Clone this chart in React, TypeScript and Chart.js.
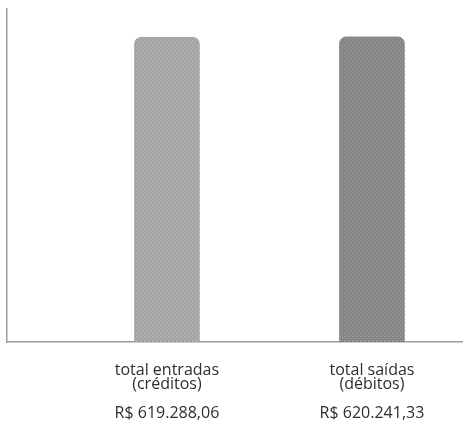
import React, { useEffect, useRef } from "react";
import { Chart, registerables } from "chart.js";

Chart.register(...registerables);

const categoryLines: string[][] = [
  ["total entradas", "(créditos)"],
  ["total saídas", "(débitos)"],
];
const amountLabels: string[] = ["R$ 619.288,06", "R$ 620.241,33"];
const values: number[] = [619288.06, 620241.33];
const positions: number[] = [0, 1];

function makePattern(base: string, dot: string): CanvasPattern | string {
  const c = document.createElement("canvas");
  c.width = 4;
  c.height = 4;
  const ctx = c.getContext("2d");
  if (!ctx) return base;
  ctx.fillStyle = base;
  ctx.fillRect(0, 0, 4, 4);
  ctx.fillStyle = dot;
  ctx.fillRect(0, 0, 1, 1);
  ctx.fillRect(2, 2, 1, 1);
  const p = ctx.createPattern(c, "repeat");
  return p || base;
}

export default function App() {
  const ref = useRef<HTMLCanvasElement | null>(null);
  useEffect(() => {
    if (!ref.current) return;
    const fills = [
      makePattern("#a3a3a3", "#c4c4c4"),
      makePattern("#868686", "#a6a6a6"),
    ];
    const chart = new Chart(ref.current, {
      type: "bar",
      data: {
        datasets: [
          {
            data: positions.map((x, i) => ({ x, y: values[i] })),
            backgroundColor: fills as any,
            borderWidth: 0,
            borderRadius: { topLeft: 7, topRight: 7, bottomLeft: 0, bottomRight: 0 },
            borderSkipped: false,
            barThickness: 65,
          },
        ],
      },
      options: {
        animation: false,
        responsive: false,
        maintainAspectRatio: false,
        layout: { padding: { left: 7, right: 0, top: 9, bottom: 0 } },
        plugins: { legend: { display: false }, tooltip: { enabled: false } },
        scales: {
          x: {
            type: "linear",
            offset: false,
            min: -0.78,
            max: 1.444,
            grid: { display: false, drawTicks: false },
            border: { display: true, color: "#9a9a9a", width: 1.5 },
            afterBuildTicks: (scale: any) => {
              scale.ticks = positions.map((v) => ({ value: v }));
            },
            afterFit: (scale: any) => {
              scale.height = 83;
            },
            ticks: {
              padding: 21,
              color: "#2e2e2e",
              maxRotation: 0,
              autoSkip: false,
              font: { family: "'Open Sans'", size: 16, lineHeight: "14.5px" },
              callback: (_v: any, i: number) => [...categoryLines[i], "", amountLabels[i]],
            },
          },
          y: {
            min: 0,
            max: 677000,
            grid: { display: false, drawTicks: false },
            border: { display: true, color: "#a0a0a0", width: 1.5 },
            ticks: { display: false },
          },
        },
      },
    });
    return () => chart.destroy();
  }, []);
  return (
    <div style={{ position: "fixed", left: 0, top: 0, width: 463, height: 425, background: "#fff" }}>
      <canvas ref={ref} width={463} height={425} style={{ width: 463, height: 425 }} />
    </div>
  );
}
